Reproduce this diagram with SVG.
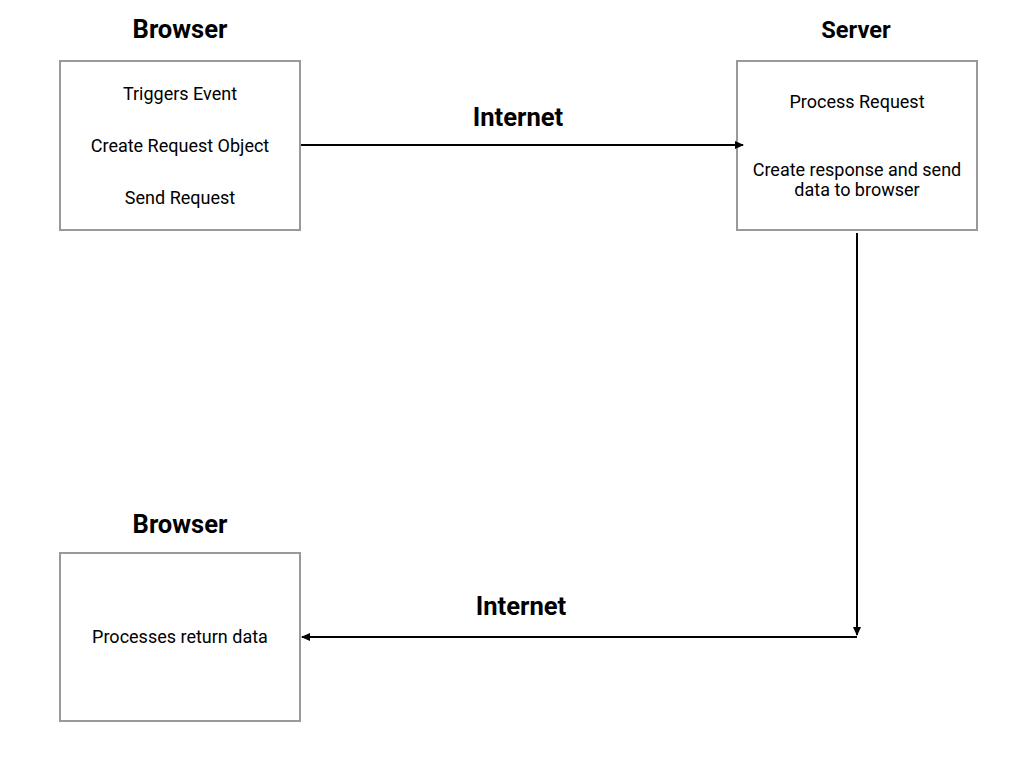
<svg xmlns="http://www.w3.org/2000/svg" width="1024" height="768" viewBox="0 0 1024 768">
<style>
.box{fill:#fff;stroke:#999;stroke-width:2}
.t{font-family:Roboto,"Liberation Sans",sans-serif;font-size:18px;fill:#000;text-anchor:middle}
.h{font-family:Roboto,"Liberation Sans",sans-serif;font-size:25.6px;font-weight:bold;fill:#000;text-anchor:middle}
.c{fill:none;stroke:#000;stroke-width:2}
</style>
<defs>
<marker id="ah" markerWidth="10" markerHeight="10" refX="8" refY="5" orient="auto" markerUnits="userSpaceOnUse">
<path d="M0,1 L9,5 L0,9 Z" fill="#000"/>
</marker>
</defs>
<rect width="1024" height="768" fill="#fff"/>
<g id="browser1">
<text class="h" x="180" y="38">Browser</text>
<rect class="box" x="60" y="61" width="240" height="169"/>
<text class="t" x="180" y="100">Triggers Event</text>
<text class="t" x="180" y="152">Create Request Object</text>
<text class="t" x="180" y="204">Send Request</text>
</g>
<g id="server">
<text class="h" x="856" y="38" style="font-size:23.6px">Server</text>
<rect class="box" x="737" y="61" width="240" height="169"/>
<text class="t" x="857" y="108">Process Request</text>
<text class="t" x="857" y="176">Create response and send</text>
<text class="t" x="857" y="196">data to browser</text>
</g>
<g id="browser2">
<text class="h" x="180" y="533">Browser</text>
<rect class="box" x="60" y="553" width="240" height="168"/>
<text class="t" x="180" y="643">Processes return data</text>
</g>
<g id="connectors">
<line class="c" x1="301" y1="145" x2="743" y2="145" marker-end="url(#ah)"/>
<text class="h" x="518" y="126">Internet</text>
<line class="c" x1="857" y1="233" x2="857" y2="635" marker-end="url(#ah)"/>
<line class="c" x1="857" y1="637" x2="302" y2="637" marker-end="url(#ah)"/>
<text class="h" x="521" y="615">Internet</text>
</g>
</svg>
